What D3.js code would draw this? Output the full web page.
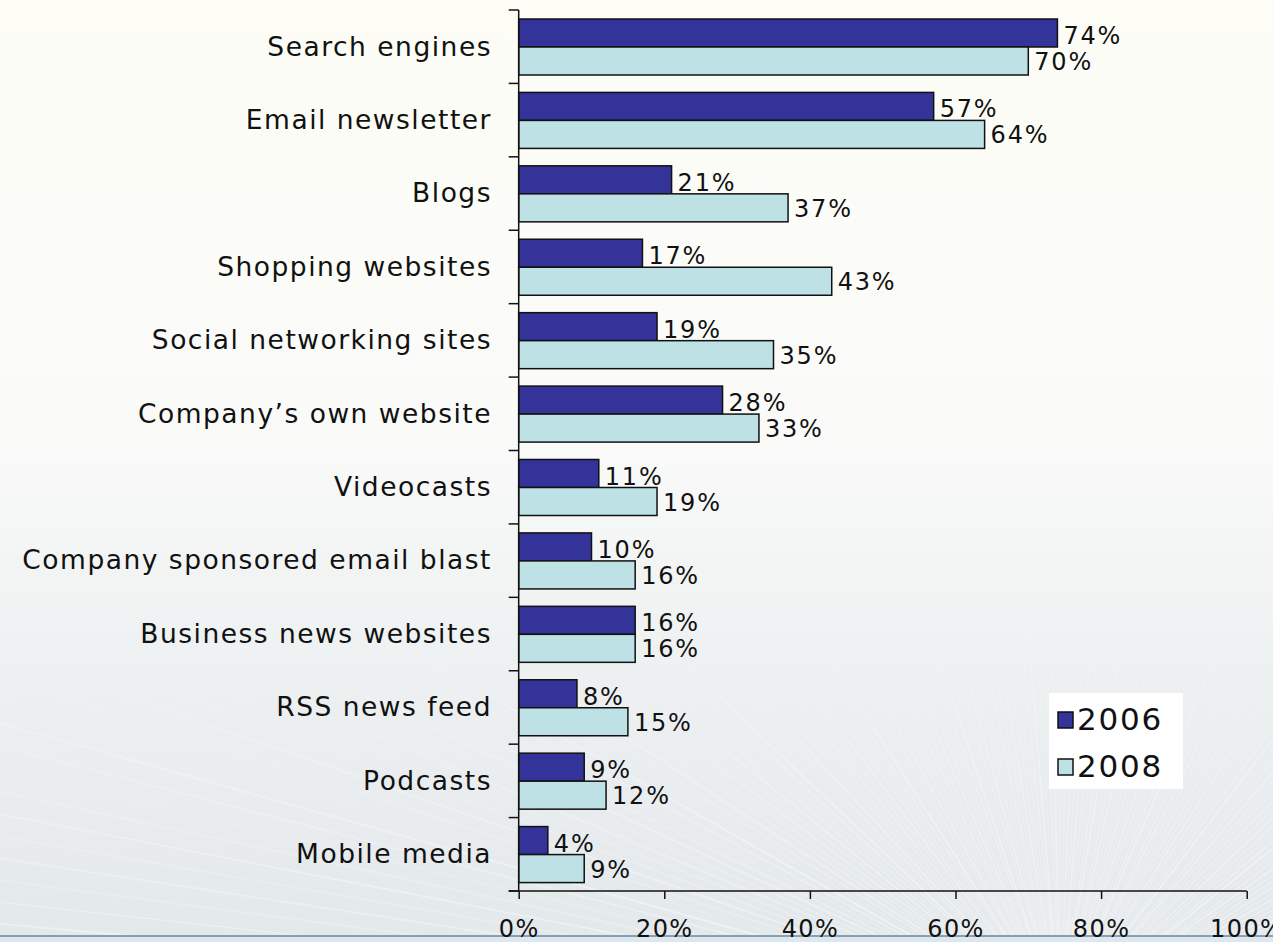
<!DOCTYPE html>
<html>
<head>
<meta charset="utf-8">
<script src="https://cdn.jsdelivr.net/npm/d3@7"></script>
<style>
  html, body { margin: 0; padding: 0; background: #fdfdf9; }
  svg { display: block; }
  text { font-family: "DejaVu Sans", Verdana, sans-serif; fill: #111; }
</style>
</head>
<body>
<svg id="chart" width="1273" height="942"></svg>
<script>
// Where people look for information: share of respondents, 2006 vs 2008
const categories = [
  "Search engines", "Email newsletter", "Blogs", "Shopping websites",
  "Social networking sites", "Company\u2019s own website", "Videocasts",
  "Company sponsored email blast", "Business news websites",
  "RSS news feed", "Podcasts", "Mobile media"
];
const values2006 = [74, 57, 21, 17, 19, 28, 11, 10, 16, 8, 9, 4];
const values2008 = [70, 64, 37, 43, 35, 33, 19, 16, 16, 15, 12, 9];
const seriesNames = ["2006", "2008"];
const seriesColors = ["#333399", "#bde1e4"];
const xTickValues = [0, 20, 40, 60, 80, 100];

const W = 1273, H = 942;
const svg = d3.select("#chart");
const defs = svg.append("defs");

// ---- background: warm white fading to a pale steel blue, with light streaks
const bg = defs.append("linearGradient").attr("id", "bgGrad")
  .attr("x1", 0).attr("y1", 0).attr("x2", 0).attr("y2", 1);
bg.append("stop").attr("offset", "0%").attr("stop-color", "#fdfdf6");
bg.append("stop").attr("offset", "45%").attr("stop-color", "#fafbf9");
bg.append("stop").attr("offset", "72%").attr("stop-color", "#edf0f1");
bg.append("stop").attr("offset", "100%").attr("stop-color", "#e3e8eb");
svg.append("rect").attr("width", W).attr("height", H).attr("fill", "url(#bgGrad)");

const fade = defs.append("linearGradient").attr("id", "fadeGrad")
  .attr("x1", 0).attr("y1", 0).attr("x2", 0).attr("y2", 1);
fade.append("stop").attr("offset", "0%").attr("stop-color", "#fff").attr("stop-opacity", 0);
fade.append("stop").attr("offset", "60%").attr("stop-color", "#fff").attr("stop-opacity", 0);
fade.append("stop").attr("offset", "100%").attr("stop-color", "#fff").attr("stop-opacity", 0.8);
defs.append("mask").attr("id", "fadeMask")
  .append("rect").attr("width", W).attr("height", H).attr("fill", "url(#fadeGrad)");

const streaks = svg.append("g").attr("mask", "url(#fadeMask)");
const cx = 1060, cy = 1020;
const angles = d3.range(0, 150).map(i => -Math.PI + 0.05 + i * (Math.PI - 0.1) / 150);
streaks.selectAll("line").data(angles).join("line")
  .attr("x1", cx).attr("y1", cy)
  .attr("x2", a => cx + Math.cos(a) * 1600)
  .attr("y2", a => cy + Math.sin(a) * 1600)
  .attr("stroke", "#ffffff")
  .attr("stroke-width", (a, i) => 1 + (i % 3) * 0.6)
  .attr("stroke-opacity", (a, i) => 0.3 + (i % 4) * 0.08);

// bottom band and rule
svg.append("rect").attr("x", 0).attr("y", 937).attr("width", W).attr("height", 5).attr("fill", "#dce8f1");
svg.append("rect").attr("x", 0).attr("y", 935).attr("width", W).attr("height", 2).attr("fill", "#8d9fae");

// ---- scales
const x = d3.scaleLinear().domain([0, 100]).range([518.7, 1246.7]);
const y = d3.scaleBand().domain(categories).range([10, 891]).paddingInner(0).paddingOuter(0);
const ySub = d3.scaleBand().domain(seriesNames).range([9, 65]);

const rows = categories.map((c, i) => ({ cat: c, vals: [values2006[i], values2008[i]] }));

// ---- bars
const groups = svg.append("g").selectAll("g").data(rows).join("g")
  .attr("transform", d => `translate(0,${y(d.cat)})`);

groups.selectAll("rect").data(d => d.vals.map((v, k) => ({ v, s: seriesNames[k], k })))
  .join("rect")
  .attr("x", x(0))
  .attr("y", d => ySub(d.s))
  .attr("width", d => x(d.v) - x(0))
  .attr("height", ySub.bandwidth())
  .attr("fill", d => seriesColors[d.k])
  .attr("stroke", "#111")
  .attr("stroke-width", 1.5);

groups.selectAll("text.val").data(d => d.vals.map((v, k) => ({ v, s: seriesNames[k], k })))
  .join("text").attr("class", "val")
  .attr("x", d => x(d.v) + 6)
  .attr("y", d => ySub(d.s) + ySub.bandwidth() / 2 + (d.k === 0 ? 4 : 2))
  .attr("dominant-baseline", "middle")
  .style("font-size", "24px")
  .style("letter-spacing", "1.8px")
  .text(d => d.v + "%");

// ---- y axis with category labels
const yAxis = svg.append("g");
yAxis.append("line")
  .attr("x1", x(0)).attr("x2", x(0)).attr("y1", 10).attr("y2", 891)
  .attr("stroke", "#111").attr("stroke-width", 1.5);
const boundaries = categories.map(c => y(c)).concat([891]);
yAxis.selectAll("line.tick").data(boundaries).join("line").attr("class", "tick")
  .attr("x1", x(0) - 10).attr("x2", x(0)).attr("y1", d => d).attr("y2", d => d)
  .attr("stroke", "#111").attr("stroke-width", 1.5);
yAxis.selectAll("text").data(categories).join("text")
  .attr("x", 492)
  .attr("y", d => y(d) + 38)
  .attr("text-anchor", "end")
  .attr("dominant-baseline", "middle")
  .style("font-size", "26.5px")
  .style("letter-spacing", "1.5px")
  .text(d => d);

// ---- x axis
const xAxisG = svg.append("g").attr("transform", "translate(0,891)")
  .call(d3.axisBottom(x).tickValues(xTickValues).tickSize(8).tickPadding(21)
    .tickFormat(d => d + "%"));
xAxisG.select(".domain").remove();
xAxisG.insert("line", ":first-child")
  .attr("x1", x(0) - 10).attr("x2", x(100)).attr("y1", 0).attr("y2", 0)
  .attr("stroke", "#111").attr("stroke-width", 1.5);
xAxisG.selectAll(".tick line").attr("stroke", "#111").attr("stroke-width", 1.5);
xAxisG.selectAll(".tick text")
  .attr("fill", "#111")
  .style("font-family", "\"DejaVu Sans\", Verdana, sans-serif")
  .style("font-size", "24px")
  .style("letter-spacing", "1.4px");

// ---- legend
const legend = svg.append("g").attr("transform", "translate(1049,693)");
legend.append("rect").attr("width", 134).attr("height", 96).attr("fill", "#ffffff");
const li = legend.selectAll("g").data(seriesNames).join("g")
  .attr("transform", (d, i) => `translate(0,${27 + i * 47})`);
li.append("rect").attr("x", 9).attr("y", -8).attr("width", 15).attr("height", 16)
  .attr("fill", (d, i) => seriesColors[i]).attr("stroke", "#111").attr("stroke-width", 1.5);
li.append("text").attr("x", 28).attr("y", 1)
  .attr("dominant-baseline", "middle")
  .style("font-size", "31px")
  .style("letter-spacing", "1.8px")
  .text(d => d);
</script>
</body>
</html>
